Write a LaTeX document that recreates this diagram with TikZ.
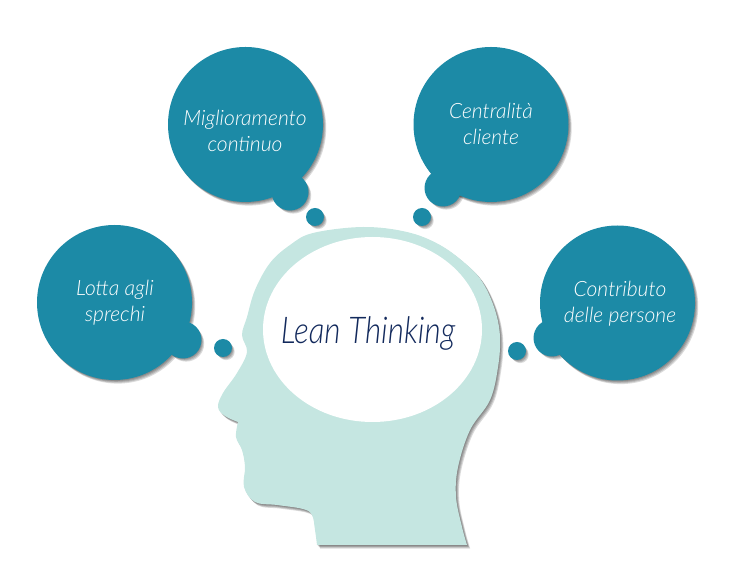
\documentclass[tikz,border=0pt]{standalone}
\usepackage{fontspec}
\usetikzlibrary{shapes.geometric}
\setmainfont{Lato Light}
\newfontfamily\leanfont[FakeStretch=0.85]{Lato Light}
\definecolor{bubblecol}{HTML}{1C8AA6}
\definecolor{headcol}{HTML}{C5E6E1}
\definecolor{leancol}{HTML}{12295C}
\tikzset{
    bubble/.style={circle, fill=bubblecol, inner sep=0pt, minimum size=155*0.02cm},
    bump/.style={circle, fill=bubblecol, inner sep=0pt, minimum size=37*0.02cm},
    dot/.style={circle, fill=bubblecol, inner sep=0pt, minimum size=18*0.02cm},
    bubbletext/.style={text=white, align=center, font=\fontsize{12}{14.8}\selectfont\itshape},
}
% soft shadow: stacked copies, each one a bit further away
\newcommand{\softshadow}[2]{
    \foreach \s in {1,2,3,4}
        \fill[black, opacity=0.14, shift={(\s*0.8,\s*0.9)}] #1 circle (#2);
}
\newcommand{\headpath}{
    (317,545) -- plot[smooth, tension=0.6] coordinates {(467,545) (462,527) (456,497) (458,467) (470,430) (490,400) (498,367) (500,337) (495,310) (483,283) (467,265) (440,245) (407,232) (363,227) (313,233) (290,245) (270,263) (255,290) (247,317) (242,335) (247,352) (237,373) (223,393) (218,407) (225,416) (238,422)}
    -- plot[smooth, tension=0.6] coordinates {(238,422) (236,437) (242,450) (245,467) (244,487) (255,502) (277,505) (303,509) (312,515) (315,530) (317,545)}
    -- cycle
}
\begin{document}
\begin{tikzpicture}[x=0.02cm, y=-0.02cm]
    \useasboundingbox (0,0) rectangle (734,580);
    % shadows first, so that they stay under every blue part
    \softshadow{(114.5,302.5)}{77.5}
    \softshadow{(183,340)}{18}
    \softshadow{(223,348)}{8.5}
    \softshadow{(245.5,124.5)}{77.5}
    \softshadow{(290,192)}{18}
    \softshadow{(315,217)}{8.5}
    \softshadow{(491,124.5)}{77.5}
    \softshadow{(443,188)}{18}
    \softshadow{(422,217)}{8.5}
    \softshadow{(617.5,303)}{77.5}
    \softshadow{(552,338)}{18}
    \softshadow{(517,351)}{8.5}
    \foreach \s in {1,2,3,4}
        \fill[black, opacity=0.14, shift={(\s*0.8,\s*0.9)}] \headpath;
    % head
    \fill[headcol] \headpath;
    \node[ellipse, fill=white, inner sep=0pt, minimum width=219*0.02cm, minimum height=185*0.02cm] (brain) at (372.5,329.5) {};
    \node[text=leancol, font=\fontsize{21}{24}\leanfont\itshape] (lean) at (368,333) {Lean Thinking};
    % bubbles
    \node[bubble] (lotta) at (114.5,302.5) {};
    \node[bump] (lottabump) at (183,340) {};
    \node[dot] (lottadot) at (223,348) {};
    \node[bubbletext] (lottatext) at (115,303) {Lotta agli\\sprechi};
    \node[bubble] (miglior) at (245.5,124.5) {};
    \node[bump] (migliorbump) at (290,192) {};
    \node[dot] (migliordot) at (315,217) {};
    \node[bubbletext] (migliortext) at (245,131) {Miglioramento\\continuo};
    \node[bubble] (centr) at (491,124.5) {};
    \node[bump] (centrbump) at (443,188) {};
    \node[dot] (centrdot) at (422,217) {};
    \node[bubbletext] (centrtext) at (491,124) {Centralità\\cliente};
    \node[bubble] (contr) at (617.5,303) {};
    \node[bump] (contrbump) at (552,338) {};
    \node[dot] (contrdot) at (517,351) {};
    \node[bubbletext] (contrtext) at (620,304) {Contributo\\delle persone};
\end{tikzpicture}
\end{document}
